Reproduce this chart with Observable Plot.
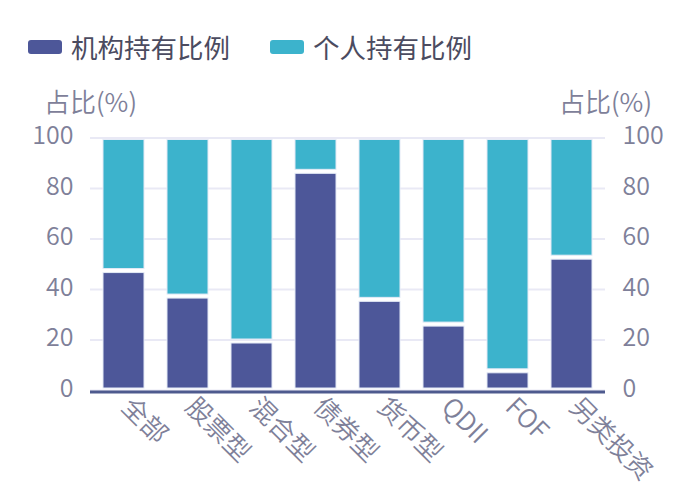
<!DOCTYPE html>
<html>
<head>
<meta charset="utf-8">
<script src="https://cdn.jsdelivr.net/npm/d3@7"></script>
<script src="https://cdn.jsdelivr.net/npm/@observablehq/plot@0.6"></script>
<style>
  html, body { margin: 0; padding: 0; background: #fff; }
  body { width: 700px; height: 497px; overflow: hidden; font-family: "Noto Sans CJK SC", "Noto Sans", sans-serif; }
  #legend { position: relative; height: 75px; }
  .item { position: absolute; top: 34px; display: flex; align-items: center; font-size: 26.5px; color: #4b4b60; line-height: 1; font-weight: 400; }
  .sw { width: 34px; height: 14px; border-radius: 3px; margin-right: 9px; }
  svg { display: block; }
  svg text { font-weight: 350; }
</style>
</head>
<body>
<div id="legend"></div>
<div id="chart"></div>
<script>
const categories = ["全部", "股票型", "混合型", "债券型", "货币型", "QDII", "FOF", "另类投资"];
const institutional = [47.3, 37.2, 19.4, 86.6, 35.9, 26.1, 7.6, 52.6];
const individual = [52.7, 62.8, 80.6, 13.4, 64.1, 73.9, 92.4, 47.4];
const seriesNames = ["机构持有比例", "个人持有比例"];
const seriesColors = ["#4d5799", "#3cb3cc"];
const yTicks = [0, 20, 40, 60, 80, 100];
const axisTitle = "占比(%)";

// legend
const legend = document.getElementById("legend");
const legendX = [28, 270];
seriesNames.forEach((name, i) => {
  const item = document.createElement("div");
  item.className = "item";
  item.style.left = legendX[i] + "px";
  item.innerHTML = `<span class="sw" style="background:${seriesColors[i]}"></span><span>${name}</span>`;
  legend.appendChild(item);
});

const rows = [];
categories.forEach((c, i) => {
  rows.push({cat: c, type: seriesNames[0], value: institutional[i]});
  rows.push({cat: c, type: seriesNames[1], value: individual[i]});
});

const tickColor = "#7e8099";

const chart = Plot.plot({
  width: 700,
  height: 422,
  marginTop: 62.5,
  marginBottom: 107,
  marginLeft: 90,
  marginRight: 95,
  style: {fontSize: "25px", fontFamily: "'Noto Sans CJK SC', 'Noto Sans', sans-serif", background: "#fff"},
  x: {domain: categories, paddingInner: 0.36, paddingOuter: 0.18, label: null},
  y: {domain: [0, 100], label: null},
  color: {domain: seriesNames, range: seriesColors},
  marks: [
    Plot.gridY(yTicks, {stroke: "#e9e9f5", strokeOpacity: 1, strokeWidth: 2}),
    Plot.barY(rows, {x: "cat", y: "value", fill: "type", insetTop: 2, insetBottom: 2, stroke: "#e4eaf6", strokeWidth: 1}),
    Plot.ruleY([0], {stroke: "#4e5a8e", strokeWidth: 3, dy: 1.5}),
    Plot.axisY(yTicks, {anchor: "left", tickSize: 0, tickPadding: 17, color: tickColor, label: null, dy: -2}),
    Plot.axisY(yTicks, {anchor: "right", tickSize: 0, tickPadding: 17, color: tickColor, label: null, dy: -2}),
    Plot.axisX({tickRotate: 45, tickSize: 0, tickPadding: 12, color: tickColor, label: null, fontSize: 26, dx: 2}),
    Plot.text([axisTitle], {frameAnchor: "top-left", dy: -44, textAnchor: "middle", fill: tickColor, fontSize: 26}),
    Plot.text([axisTitle], {frameAnchor: "top-right", dy: -44, textAnchor: "middle", fill: tickColor, fontSize: 26})
  ]
});
document.getElementById("chart").appendChild(chart);
</script>
</body>
</html>
